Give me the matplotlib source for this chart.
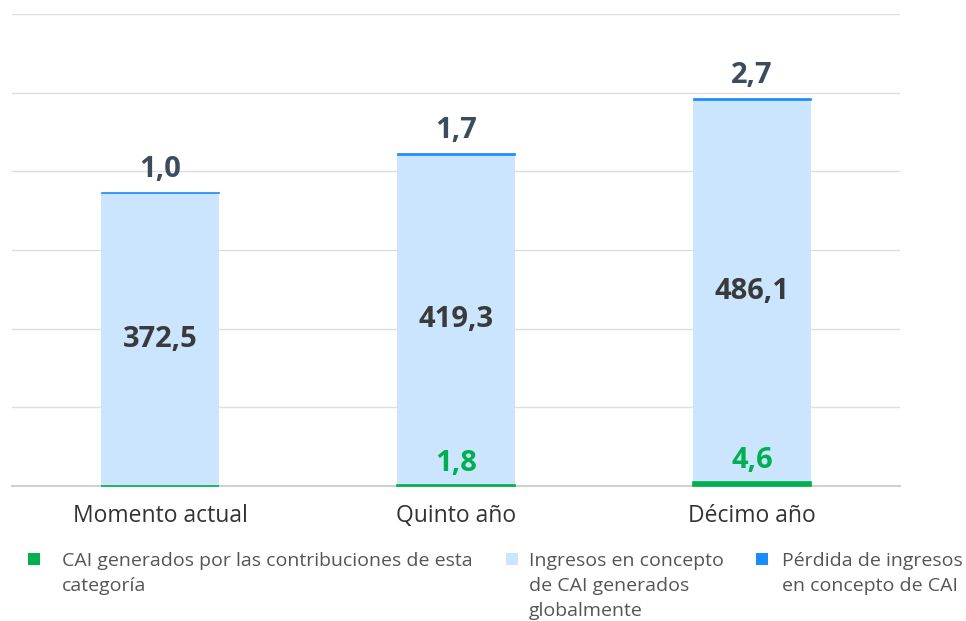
import matplotlib
matplotlib.use("Agg")
import matplotlib.pyplot as plt
from matplotlib.patches import Rectangle

categories = ["Momento actual", "Quinto año", "Décimo año"]
green_vals = [0.4, 1.8, 4.6]
green_labels = [None, "1,8", "4,6"]
light_vals = [372.5, 419.3, 486.1]
light_labels = ["372,5", "419,3", "486,1"]
blue_vals = [1.0, 1.7, 2.7]
blue_labels = ["1,0", "1,7", "2,7"]
legend_labels = [["CAI generados por las contribuciones de esta", "categoría"],
                 ["Ingresos en concepto", "de CAI generados", "globalmente"],
                 ["Pérdida de ingresos", "en concepto de CAI"]]

C_GREEN = "#00B04F"
C_LIGHT = "#CCE5FF"
C_BLUE = "#1A8CFF"
C_LABEL = "#3D4B5E"
C_MID = "#3A3A3A"

plt.rcParams['font.family'] = ['Open Sans', 'DejaVu Sans']

fig = plt.figure(figsize=(9.66, 6.21), dpi=100)
ax = fig.add_axes([12/966, 1-486/621, 888/966, (486-14)/621])

x = list(range(len(categories)))
w = 0.40
ax.bar(x, green_vals, width=w, color=C_GREEN, edgecolor=C_GREEN, linewidth=1.2, zorder=4, clip_on=False)
ax.bar(x, light_vals, width=w, bottom=green_vals, color=C_LIGHT, linewidth=0, zorder=3, clip_on=False)
bottoms2 = [g + l for g, l in zip(green_vals, light_vals)]
ax.bar(x, blue_vals, width=w, bottom=bottoms2, color=C_BLUE, edgecolor=C_BLUE, linewidth=0.5, zorder=4, clip_on=False)

for i in x:
    ax.text(i, green_vals[i] + light_vals[i] / 2, light_labels[i], ha="center", va="center",
            fontsize=21, fontweight="bold", color=C_MID, zorder=5)
    top = bottoms2[i] + blue_vals[i]
    ax.annotate(blue_labels[i], (i, top), xytext=(0, 6), textcoords="offset points",
                ha="center", va="bottom", fontsize=21, fontweight="bold", color=C_LABEL, zorder=5)
    if green_labels[i]:
        ax.annotate(green_labels[i], (i, green_vals[i]), xytext=(0, 5), textcoords="offset points",
                    ha="center", va="bottom", fontsize=21, fontweight="bold", color=C_GREEN, zorder=5)

ax.set_xlim(-0.5, 2.5)
ax.set_ylim(0, 600)
ax.set_yticks(range(0, 601, 100))
ax.yaxis.grid(True, color="#DDDDDD", linewidth=1.0, zorder=0)
ax.set_yticklabels([])
ax.tick_params(axis="y", length=0)
ax.tick_params(axis="x", length=0, pad=13, labelsize=16.5, labelcolor="#333333")
ax.set_xticks(x)
ax.set_xticklabels(categories)
for s in ["top", "right", "left"]:
    ax.spines[s].set_visible(False)
ax.spines["bottom"].set_color("#D0D0D0")
ax.spines["bottom"].set_linewidth(1.5)
ax.spines["bottom"].set_zorder(1)
ax.set_axisbelow(True)

# legend
leg_items = [(28, 62, C_GREEN), (506, 529, C_LIGHT), (756, 782, C_BLUE)]
for (mx, tx, col), lines in zip(leg_items, legend_labels):
    fig.add_artist(Rectangle((mx/966, 1-565/621), 12/966, 12/621, transform=fig.transFigure,
                             facecolor=col, edgecolor="none"))
    for k, line in enumerate(lines):
        fig.text(tx/966, 1-(566 + 25*k)/621, line, ha="left", va="baseline", fontsize=14,
                 color="#555555")

fig.savefig("out.png", dpi=100)
